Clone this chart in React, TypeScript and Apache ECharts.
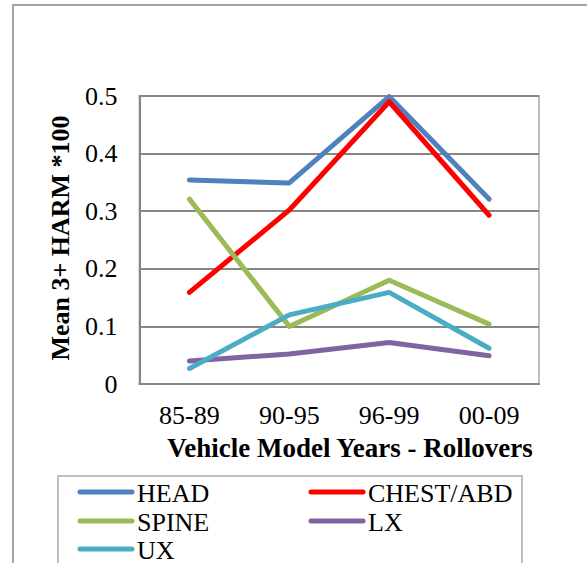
import React, { useEffect, useRef } from "react";
import * as echarts from "echarts";

const categories = ["85-89", "90-95", "96-99", "00-09"];
const head = [0.354, 0.349, 0.499, 0.321];
const chestAbd = [0.159, 0.302, 0.49, 0.293];
const spine = [0.321, 0.1, 0.18, 0.104];
const lx = [0.04, 0.052, 0.072, 0.049];
const ux = [0.027, 0.12, 0.159, 0.062];

const seriesNames = ["HEAD", "CHEST/ABD", "SPINE", "LX", "UX"];
const seriesColors = ["#4F81BD", "#FF0000", "#9BBB59", "#8064A2", "#4BACC6"];
const seriesData = [head, chestAbd, spine, lx, ux];

const FONT = '"Liberation Serif", "Times New Roman", serif';

// Legend drawn as a two-column key below the plot
function legendGraphics() {
  const colX = [80, 311];
  const rowY = [492, 521, 549];
  const items: any[] = [];
  seriesNames.forEach((name, i) => {
    const x = colX[i % 2];
    const y = rowY[Math.floor(i / 2)];
    items.push({
      type: "line",
      shape: { x1: x, y1: y, x2: x + 52, y2: y },
      style: { stroke: seriesColors[i], lineWidth: 5, lineCap: "round" },
      silent: true,
    });
    items.push({
      type: "text",
      x: x + 57,
      y: y + 1,
      style: {
        text: name,
        fontFamily: FONT,
        fontSize: 26,
        fill: "#000",
        align: "left",
        verticalAlign: "middle",
      },
      silent: true,
    });
  });
  return items;
}

export default function App() {
  const ref = useRef<HTMLDivElement>(null);

  useEffect(() => {
    document.body.style.margin = "0";
    if (!ref.current) return;
    const chart = echarts.init(ref.current, null, { renderer: "svg" });

    chart.setOption({
      animation: false,
      backgroundColor: "#fff",
      grid: {
        left: 139.5,
        right: 48,
        top: 96,
        bottom: 179,
        show: true,
        borderColor: "#BFBFBF",
        borderWidth: 2,
      },
      xAxis: {
        type: "category",
        data: categories,
        boundaryGap: true,
        axisLine: { show: true, lineStyle: { color: "#868686", width: 2 } },
        axisTick: { show: false },
        axisLabel: { fontFamily: FONT, fontSize: 26, color: "#000", margin: 18 },
      },
      yAxis: {
        type: "value",
        min: 0,
        max: 0.5,
        interval: 0.1,
        axisLine: { show: true, lineStyle: { color: "#868686", width: 2 } },
        axisTick: { show: false },
        splitLine: { show: true, lineStyle: { color: "#868686", width: 2 } },
        axisLabel: { fontFamily: FONT, fontSize: 26, color: "#000", margin: 22 },
      },
      series: seriesNames.map((name, i) => ({
        name,
        type: "line",
        data: seriesData[i],
        symbol: "none",
        color: seriesColors[i],
        lineStyle: { width: 5, color: seriesColors[i], cap: "round", join: "round" },
      })),
      graphic: [
        {
          type: "rect",
          shape: { x: 13, y: 5, width: 700, height: 700 },
          style: { fill: "none", stroke: "#868686", lineWidth: 1.5 },
          silent: true,
          z: -1,
        },
        {
          type: "rect",
          shape: { x: 58, y: 476, width: 464, height: 200 },
          style: { fill: "none", stroke: "#BFBFBF", lineWidth: 2 },
          silent: true,
          z: -1,
        },
        ...legendGraphics(),
        {
          type: "text",
          x: 60,
          y: 238,
          rotation: Math.PI / 2,
          style: {
            text: "Mean 3+ HARM *100",
            fontFamily: FONT,
            fontSize: 26,
            fontWeight: "bold",
            fill: "#000",
            align: "center",
            verticalAlign: "middle",
          },
        },
        {
          type: "text",
          x: 350,
          y: 448,
          style: {
            text: "Vehicle Model Years - Rollovers",
            fontFamily: FONT,
            fontSize: 27,
            fontWeight: "bold",
            fill: "#000",
            align: "center",
            verticalAlign: "middle",
          },
        },
      ],
    });

    return () => chart.dispose();
  }, []);

  return <div ref={ref} style={{ width: 587, height: 563 }} />;
}
